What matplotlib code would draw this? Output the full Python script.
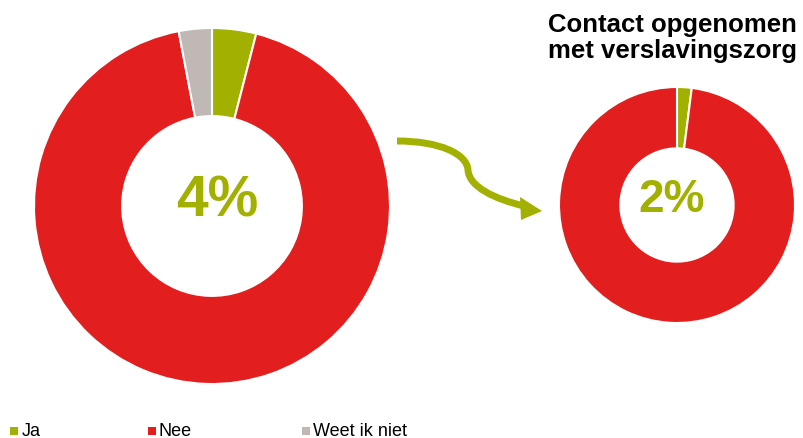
import matplotlib.pyplot as plt
from matplotlib.path import Path
from matplotlib.patches import FancyArrowPatch, Polygon

plt.rcParams['font.family'] = ['Liberation Sans', 'DejaVu Sans']

categories = ['Ja', 'Nee', 'Weet ik niet']
totaal = [4, 93, 3]
contact_labels = ['Ja', 'Nee']
contact = [2, 98]
title_lines = ['Contact opgenomen', 'met verslavingszorg']

GREEN = '#a2b000'
RED = '#e31e1e'
GREY = '#bfb8b5'
colors = [GREEN, RED, GREY]

W, H = 804, 438
fig = plt.figure(figsize=(W / 100, H / 100), dpi=100)


def px_axes(cx, cy, r):
    return fig.add_axes([(cx - r) / W, (H - cy - r) / H, 2 * r / W, 2 * r / H])


# big donut
ax1 = px_axes(212, 206, 178)
ax1.pie(totaal, colors=colors, startangle=90, counterclock=False,
        wedgeprops=dict(width=0.495, edgecolor='white', linewidth=1.5))
ax1.set_xlim(-1, 1)
ax1.set_ylim(-1, 1)
ax1.text(0.03, 0.025, f'{totaal[0]}%', ha='center', va='center', color=GREEN,
         fontsize=41, fontweight='bold')

# small donut
ax2 = px_axes(677, 205, 118)
ax2.pie(contact, colors=colors[:2], startangle=90, counterclock=False,
        wedgeprops=dict(width=0.52, edgecolor='white', linewidth=1.5))
ax2.set_xlim(-1, 1)
ax2.set_ylim(-1, 1)
ax2.text(-0.045, 0.045, f'{contact[0]}%', ha='center', va='center', color=GREEN,
         fontsize=33, fontweight='bold')

# overlay for arrow, title and legend
ov = fig.add_axes([0, 0, 1, 1])
ov.set_xlim(0, W)
ov.set_ylim(H, 0)
ov.axis('off')

verts = [(397, 141), (440, 141), (467, 154), (468, 170),
         (469, 187), (495, 199), (524, 206)]
codes = [Path.MOVETO, Path.CURVE4, Path.CURVE4, Path.CURVE4,
         Path.CURVE4, Path.CURVE4, Path.CURVE4]
curve = FancyArrowPatch(path=Path(verts, codes), arrowstyle='-',
                        color=GREEN, linewidth=5, capstyle='butt')
ov.add_patch(curve)
ov.add_patch(Polygon([(520, 197), (542, 211), (521, 220)], closed=True,
                     color=GREEN, linewidth=0))

ov.text(797, 32, title_lines[0], ha='right', va='baseline', fontsize=18.5,
        fontweight='bold', color='black')
ov.text(797, 58, title_lines[1], ha='right', va='baseline', fontsize=18.5,
        fontweight='bold', color='black')

# legend
sq_x = [14.5, 152, 306]
for x, lab, c in zip(sq_x, categories, colors):
    ov.scatter([x], [431], marker='s', s=30, color=c, linewidths=0)
    ov.text(x + 7, 431, lab, ha='left', va='center', fontsize=13, color='black')

fig.savefig('out.png', dpi=100)
